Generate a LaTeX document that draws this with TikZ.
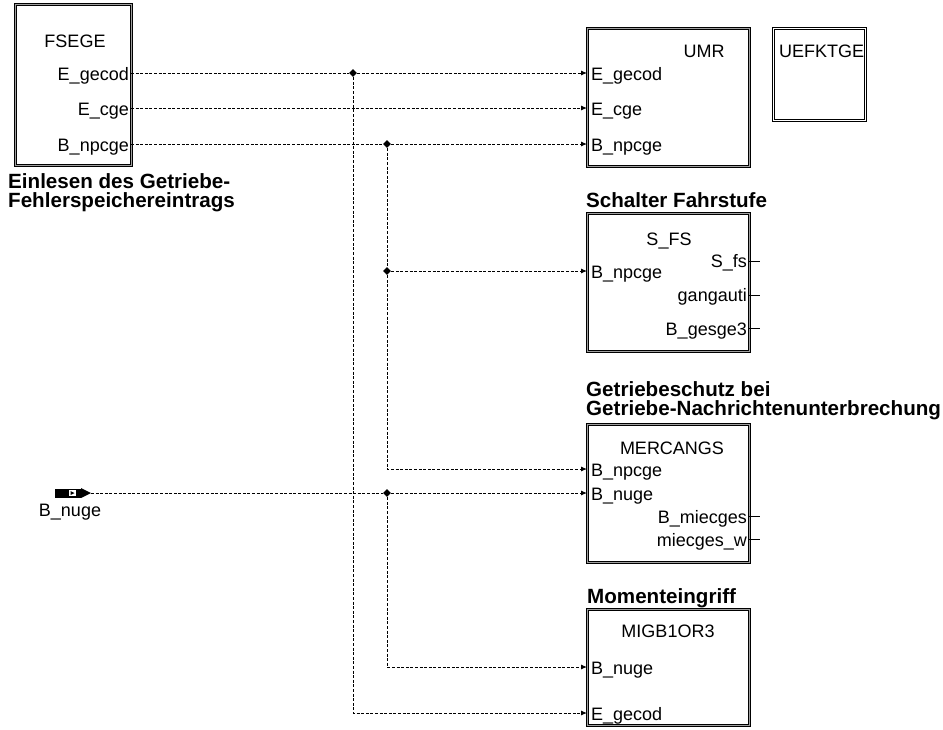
\documentclass[tikz,border=0pt]{standalone}
\usepackage{fontspec}
\setmainfont{Liberation Sans}
\usetikzlibrary{shapes.geometric,arrows.meta}
\begin{document}
\begin{tikzpicture}[x=1pt,y=-1pt,
  blk/.style={draw=black, line width=0.7pt, double=gray!75, double distance=1.5pt, inner sep=0, anchor=north west},
  blkw/.style={draw=black, line width=0.7pt, double=white, double distance=1.2pt, inner sep=0, anchor=north west},
  txt/.style={font=\fontsize{18}{20}\selectfont, inner sep=0},
  pin/.style={txt, anchor=base west},
  pout/.style={txt, anchor=base east},
  captxt/.style={font=\bfseries\fontsize{20.6}{19}\selectfont, align=left, anchor=base west, inner sep=0},
  sig/.style={dash pattern=on 3pt off 1.6pt, line width=0.9pt},
  arr/.style={sig, -{Latex[length=6pt,width=5pt]}},
  jn/.style={diamond, fill=black, inner sep=0, minimum size=8pt},
  stub/.style={line width=0.9pt}
]
\useasboundingbox (0,0) rectangle (943,729);

% ---------- boxes ----------
\node[blk, minimum width=116pt, minimum height=161pt] (fsege) at (15,4) {};
\node[blk, minimum width=162pt, minimum height=138pt] (umr) at (587,28) {};
\node[blkw, minimum width=92pt, minimum height=92pt] (uefk) at (773,28) {};
\node[blk, minimum width=162pt, minimum height=138pt] (sfs) at (587,213) {};
\node[blk, minimum width=162pt, minimum height=138pt] (merc) at (587,424) {};
\node[blk, minimum width=162pt, minimum height=116pt] (migb) at (587,609) {};

% ---------- titles ----------
\node[txt, anchor=base] (tfsege) at (75,47) {FSEGE};
\node[txt, anchor=base] (tumr) at (704,57) {UMR};
\node[txt, anchor=base west] (tuefk) at (779,57) {UEFKTGE};
\node[txt, anchor=base] (tsfs) at (669,245) {S\_FS};
\node[txt, anchor=base] (tmerc) at (672,454) {MERCANGS};
\node[txt, anchor=base] (tmigb) at (668,637) {MIGB1OR3};

% ---------- captions ----------
\node[captxt] (c1) at (8,207) {Einlesen des Getriebe-\\Fehlerspeichereintrags};
\node[captxt] (c2) at (586,207) {Schalter Fahrstufe};
\node[captxt] (c3) at (586,415) {Getriebeschutz bei\\Getriebe-Nachrichtenunterbrechung};
\node[captxt] (c4) at (587,603) {Momenteingriff};

% ---------- port labels ----------
\node[pout] (fo1) at (129,80) {E\_gecod};
\node[pout] (fo2) at (129,115) {E\_cge};
\node[pout] (fo3) at (129,151) {B\_npcge};

\node[pin] (ui1) at (591,80) {E\_gecod};
\node[pin] (ui2) at (591,115) {E\_cge};
\node[pin] (ui3) at (591,151) {B\_npcge};

\node[pin] (si1) at (591,278) {B\_npcge};
\node[pout] (so1) at (747,267) {S\_fs};
\node[pout] (so2) at (747,301) {gangauti};
\node[pout] (so3) at (747,335) {B\_gesge3};

\node[pin] (mi1) at (591,476) {B\_npcge};
\node[pin] (mi2) at (591,500) {B\_nuge};
\node[pout] (mo1) at (747,523) {B\_miecges};
\node[pout] (mo2) at (747,546) {miecges\_w};

\node[pin] (gi1) at (591,674) {B\_nuge};
\node[pin] (gi2) at (591,720) {E\_gecod};

% ---------- port coordinates ----------
\coordinate (FO1) at (131,73);
\coordinate (FO2) at (131,108);
\coordinate (FO3) at (131,144);
\coordinate (UI1) at (587,73);
\coordinate (UI2) at (587,108);
\coordinate (UI3) at (587,144);
\coordinate (SI1) at (587,271);
\coordinate (MI1) at (587,469);
\coordinate (MI2) at (587,493);
\coordinate (GI1) at (587,667);
\coordinate (GI2) at (587,713);

% output stubs
\coordinate (SO1) at (749,261); \coordinate (SO1e) at (760,261);
\coordinate (SO2) at (749,295); \coordinate (SO2e) at (760,295);
\coordinate (SO3) at (749,328); \coordinate (SO3e) at (760,328);
\coordinate (MO1) at (749,516); \coordinate (MO1e) at (760,516);
\coordinate (MO2) at (749,539); \coordinate (MO2e) at (760,539);
\draw[stub] (SO1) -- (SO1e);
\draw[stub] (SO2) -- (SO2e);
\draw[stub] (SO3) -- (SO3e);
\draw[stub] (MO1) -- (MO1e);
\draw[stub] (MO2) -- (MO2e);

% ---------- input B_nuge ----------
\node[fill=black, inner sep=0, minimum width=26pt, minimum height=9pt] (inbox) at (68,493) {};
\fill[white] (68.5,490) rectangle (76,496);
\fill[black] (70.5,491) -- (74.5,493) -- (70.5,495) -- cycle;
\fill[black] (81,488) -- (91,493) -- (81,498) -- cycle;
\coordinate (INP) at (91,493);
\node[txt, anchor=base] (tin) at (70,516) {B\_nuge};

% ---------- junctions ----------
\node[jn] (j1) at (353,73) {};
\node[jn] (j2) at (387,144) {};
\node[jn] (j3) at (387,271) {};
\node[jn] (j4) at (387,493) {};
\coordinate (k1) at (353,713);
\coordinate (k2) at (387,469);
\coordinate (k3) at (387,667);

% ---------- connectors ----------
\draw[sig] (FO1) -- (j1);
\draw[arr] (j1) -- (UI1);
\draw[arr] (FO2) -- (UI2);
\draw[sig] (FO3) -- (j2);
\draw[arr] (j2) -- (UI3);
\draw[sig] (j2) -- (j3);
\draw[arr] (j3) -- (SI1);
\draw[arr] (j3) -- (k2) -- (MI1);
\draw[sig] (INP) -- (j4);
\draw[arr] (j4) -- (MI2);
\draw[arr] (j4) -- (k3) -- (GI1);
\draw[arr] (j1) -- (k1) -- (GI2);

\end{tikzpicture}
\end{document}
